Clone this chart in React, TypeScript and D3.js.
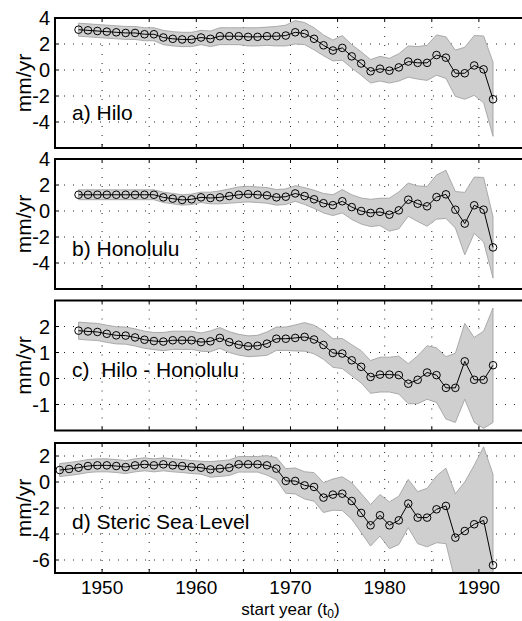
import React from "react";
import * as d3 from "d3";

// start year t0 of each trend estimate
const yearsShort = [1947, 1948, 1949, 1950, 1951, 1952, 1953, 1954, 1955, 1956, 1957, 1958, 1959, 1960, 1961, 1962, 1963, 1964, 1965, 1966, 1967, 1968, 1969, 1970, 1971, 1972, 1973, 1974, 1975, 1976, 1977, 1978, 1979, 1980, 1981, 1982, 1983, 1984, 1985, 1986, 1987, 1988, 1989, 1990, 1991];
const yearsLong = [1945, 1946, 1947, 1948, 1949, 1950, 1951, 1952, 1953, 1954, 1955, 1956, 1957, 1958, 1959, 1960, 1961, 1962, 1963, 1964, 1965, 1966, 1967, 1968, 1969, 1970, 1971, 1972, 1973, 1974, 1975, 1976, 1977, 1978, 1979, 1980, 1981, 1982, 1983, 1984, 1985, 1986, 1987, 1988, 1989, 1990, 1991];

// a) Hilo
const hiloRate = [3.1, 3.05, 3.0, 2.95, 2.9, 2.85, 2.85, 2.75, 2.75, 2.5, 2.4, 2.35, 2.35, 2.5, 2.4, 2.6, 2.6, 2.6, 2.55, 2.55, 2.6, 2.6, 2.65, 2.9, 2.8, 2.4, 1.9, 1.5, 1.7, 1.05, 0.5, -0.1, 0.1, -0.05, 0.2, 0.65, 0.55, 0.55, 1.15, 0.95, -0.25, -0.25, 0.35, 0.05, -2.25];
const hiloErr = [0.5, 0.5, 0.5, 0.5, 0.5, 0.5, 0.5, 0.5, 0.5, 0.55, 0.55, 0.55, 0.55, 0.55, 0.6, 0.65, 0.65, 0.65, 0.7, 0.7, 0.7, 0.75, 0.8, 0.9, 0.85, 0.85, 0.8, 0.8, 0.95, 0.9, 0.9, 0.9, 0.95, 0.95, 1.05, 1.2, 1.25, 1.35, 1.55, 1.6, 1.78, 2.0, 2.3, 2.57, 2.85];

// b) Honolulu
const honoluluRate = [1.25, 1.25, 1.25, 1.25, 1.25, 1.25, 1.25, 1.25, 1.25, 1.05, 0.95, 0.85, 0.9, 1.05, 1.0, 1.05, 1.15, 1.25, 1.3, 1.25, 1.2, 1.05, 1.1, 1.35, 1.15, 0.9, 0.6, 0.45, 0.75, 0.3, 0.0, -0.15, -0.07, -0.28, 0.05, 0.87, 0.56, 0.36, 1.07, 1.28, 0.1, -0.97, 0.44, 0.1, -2.8];
const honoluluErr = [0.38, 0.38, 0.38, 0.38, 0.38, 0.38, 0.38, 0.38, 0.38, 0.4, 0.4, 0.4, 0.4, 0.4, 0.45, 0.5, 0.55, 0.6, 0.6, 0.6, 0.6, 0.6, 0.6, 0.6, 0.65, 0.7, 0.75, 0.8, 0.9, 0.95, 1.0, 1.05, 1.05, 1.27, 1.42, 1.28, 1.37, 1.53, 1.7, 1.85, 1.4, 2.4, 2.17, 2.48, 2.36];

// c) Hilo - Honolulu
const diffRate = [1.84, 1.81, 1.79, 1.72, 1.66, 1.65, 1.58, 1.49, 1.44, 1.42, 1.47, 1.47, 1.47, 1.4, 1.43, 1.56, 1.4, 1.3, 1.24, 1.26, 1.34, 1.53, 1.53, 1.56, 1.6, 1.5, 1.29, 0.98, 0.96, 0.7, 0.45, 0.06, 0.15, 0.15, 0.13, -0.2, -0.05, 0.23, 0.13, -0.36, -0.36, 0.66, -0.05, -0.05, 0.51];
const diffErr = [0.33, 0.33, 0.33, 0.33, 0.33, 0.33, 0.33, 0.33, 0.33, 0.35, 0.35, 0.35, 0.35, 0.35, 0.4, 0.4, 0.4, 0.4, 0.4, 0.4, 0.45, 0.45, 0.45, 0.5, 0.55, 0.55, 0.55, 0.55, 0.58, 0.6, 0.62, 0.63, 0.67, 0.67, 0.73, 0.77, 0.92, 1.03, 1.05, 1.2, 1.33, 1.46, 1.63, 1.87, 2.2];

// d) Steric Sea Level
const stericRate = [0.92, 1.0, 1.1, 1.23, 1.28, 1.28, 1.23, 1.15, 1.28, 1.36, 1.28, 1.36, 1.28, 1.23, 1.15, 1.1, 0.97, 1.03, 1.1, 1.36, 1.36, 1.36, 1.28, 1.03, 0.08, 0.08, -0.26, -0.38, -1.2, -0.97, -0.9, -1.46, -2.38, -3.33, -2.56, -3.33, -2.95, -1.66, -2.74, -2.74, -2.1, -1.84, -4.28, -3.77, -3.25, -2.95, -6.4];
const stericErr = [0.5, 0.5, 0.5, 0.5, 0.5, 0.5, 0.5, 0.5, 0.5, 0.5, 0.5, 0.5, 0.5, 0.5, 0.5, 0.5, 0.6, 0.6, 0.6, 0.6, 0.6, 0.6, 0.75, 0.85, 0.95, 1.0, 1.05, 1.1, 1.15, 1.2, 1.3, 1.4, 1.5, 1.6, 1.6, 1.8, 1.86, 1.86, 2.0, 2.25, 2.57, 2.9, 3.38, 3.77, 4.54, 5.65, 7.0];

const xTickLabels = [1950, 1960, 1970, 1980, 1990];
const xGrid = [1950, 1955, 1960, 1965, 1970, 1975, 1980, 1985, 1990];
const ticksWide = [-4, -2, 0, 2, 4];
const ticksDiff = [-1, 0, 1, 2];
const ticksSteric = [-6, -4, -2, 0, 2];

const font = "'Liberation Sans', Arial, Helvetica, sans-serif";

const panels = [
  { id: "a", label: "a) Hilo", years: yearsShort, rate: hiloRate, err: hiloErr, domain: [-6, 4], ticks: ticksWide, top: 18, labelY: 120 },
  { id: "b", label: "b) Honolulu", years: yearsShort, rate: honoluluRate, err: honoluluErr, domain: [-6, 4], ticks: ticksWide, top: 159, labelY: 256 },
  { id: "c", label: "c)  Hilo - Honolulu", years: yearsShort, rate: diffRate, err: diffErr, domain: [-2, 3], ticks: ticksDiff, top: 300.5, labelY: 377 },
  { id: "d", label: "d) Steric Sea Level", years: yearsLong, rate: stericRate, err: stericErr, domain: [-7, 3], ticks: ticksSteric, top: 443, labelY: 529 },
];

export default function App() {
  const width = 522, height = 621;
  const left = 55, right = 526, panelH = 130;

  const x = d3.scaleLinear().domain([1945, 1995]).range([left, right]);

  return (
    <svg width={width} height={height} style={{ position: "absolute", left: 0, top: 0 }} fontFamily={font}>
      <rect width={width} height={height} fill="#fff" />
      {panels.map((p) => {
        const y = d3.scaleLinear().domain(p.domain).range([p.top + panelH, p.top]);
        const pts = p.years.map((yr, i) => ({ t: yr + 0.5, v: p.rate[i], e: p.err[i] }));
        const band = d3.area<any>()
          .x((d) => x(d.t))
          .y0((d) => y(d.v - d.e))
          .y1((d) => y(d.v + d.e));
        const line = d3.line<any>().x((d) => x(d.t)).y((d) => y(d.v));
        const mid = p.top + panelH / 2;
        return (
          <g key={p.id}>
            <defs>
              <clipPath id={"clip-" + p.id}>
                <rect x={left} y={p.top} width={right - left} height={panelH} />
              </clipPath>
            </defs>
            {/* dotted grid */}
            {p.ticks.map((t) => (
              <line key={"h" + t} x1={left} x2={right} y1={y(t)} y2={y(t)} stroke="#222" strokeWidth={1} strokeDasharray="1,8" />
            ))}
            {xGrid.map((t) => (
              <line key={"v" + t} x1={x(t)} x2={x(t)} y1={p.top} y2={p.top + panelH} stroke="#222" strokeWidth={1} strokeDasharray="1,8" />
            ))}
            <g clipPath={`url(#clip-${p.id})`}>
              <path d={band(pts) || ""} fill="#cfcfcf" stroke="#9a9a9a" strokeWidth={0.8} />
              <path d={line(pts) || ""} fill="none" stroke="#000" strokeWidth={1} />
              {pts.map((d, i) => (
                <circle key={i} cx={x(d.t)} cy={y(d.v)} r={3.8} fill="none" stroke="#000" strokeWidth={1} />
              ))}
            </g>
            {/* ticks inside the box */}
            {p.ticks.map((t) => (
              <line key={"yt" + t} x1={left} x2={left + 4} y1={y(t)} y2={y(t)} stroke="#000" />
            ))}
            {xGrid.map((t) => (
              <g key={"xt" + t}>
                <line x1={x(t)} x2={x(t)} y1={p.top + panelH} y2={p.top + panelH - 4} stroke="#000" />
                <line x1={x(t)} x2={x(t)} y1={p.top} y2={p.top + 4} stroke="#000" />
              </g>
            ))}
            <rect x={left} y={p.top} width={right - left} height={panelH} fill="none" stroke="#000" strokeWidth={2} />
            {p.ticks.map((t) => (
              <text key={"yl" + t} x={50} y={y(t)} dy="0.36em" textAnchor="end" fontSize={20}>
                {t}
              </text>
            ))}
            <text transform={`translate(31,${mid}) rotate(-90)`} textAnchor="middle" fontSize={21}>
              mm/yr
            </text>
            <text x={72} y={p.labelY} fontSize={21} style={{ whiteSpace: "pre" }}>
              {p.label}
            </text>
          </g>
        );
      })}
      {xTickLabels.map((t) => (
        <text key={t} x={x(t)} y={594} textAnchor="middle" fontSize={19}>
          {t}
        </text>
      ))}
      <text x={x(1970)} y={615} textAnchor="middle" fontSize={17}>
        start year (t<tspan fontSize={12} dy={3}>0</tspan><tspan dy={-3}>)</tspan>
      </text>
    </svg>
  );
}
